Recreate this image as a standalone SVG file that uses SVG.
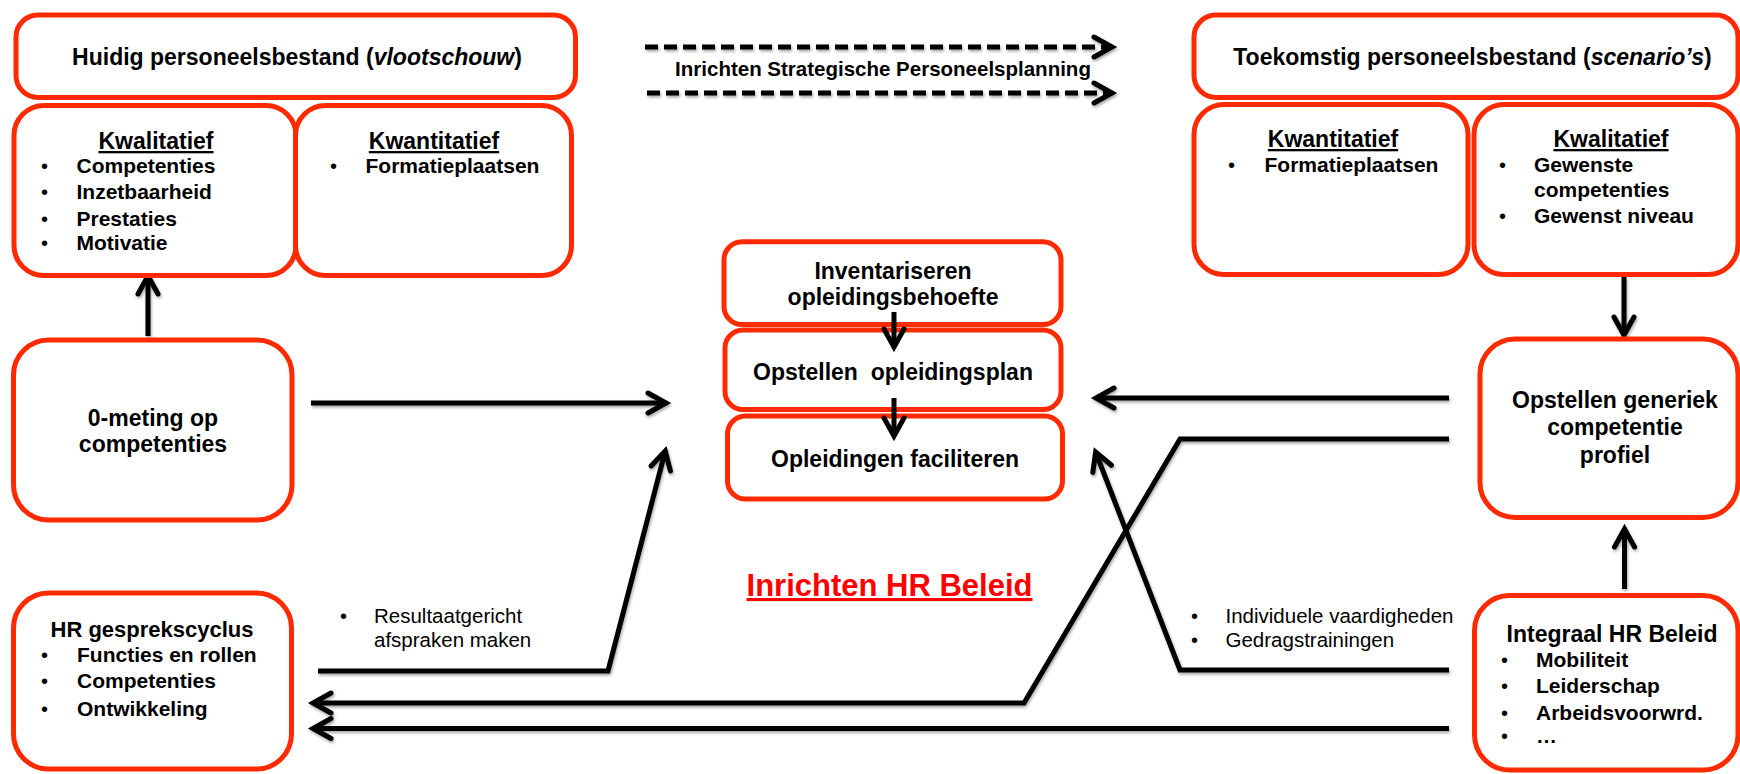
<svg xmlns="http://www.w3.org/2000/svg" width="1740" height="774" viewBox="0 0 1740 774">
<style>
.box{fill:#fff;stroke:#ff2a00;stroke-width:5}
.t{font-family:"Liberation Sans",Arial,sans-serif;font-weight:bold;fill:#000}
.r{font-family:"Liberation Sans",Arial,sans-serif;font-weight:normal;fill:#000;font-size:20.5px}
.h{font-size:23px}
.b{font-size:21px}
.k{font-size:23px}
.c{text-anchor:middle}
.u{text-decoration:underline}
.d{font-family:"Liberation Sans",Arial,sans-serif;font-weight:normal;fill:#000;font-size:20px}
.ln{fill:none;stroke:#000;stroke-width:5;stroke-linejoin:miter}
.dash{fill:none;stroke:#000;stroke-width:5;stroke-dasharray:13 6}
</style>
<defs>
<marker id="ah" markerUnits="userSpaceOnUse" markerWidth="40" markerHeight="40" viewBox="-25 -20 40 40" refX="0" refY="0" orient="auto" overflow="visible">
<path d="M-17,-10 L1,0 L-17,10" fill="none" stroke="#000" stroke-width="5" stroke-linecap="round" stroke-linejoin="miter"/>
</marker>
<filter id="sh" x="-5%" y="-5%" width="110%" height="110%">
<feDropShadow dx="1" dy="2" stdDeviation="1.5" flood-color="#000" flood-opacity="0.35"/>
</filter>
</defs>

<g id="connectors" filter="url(#sh)">
<line class="dash" x1="645" y1="47" x2="1111" y2="47" marker-end="url(#ah)"/>
<line class="dash" x1="647" y1="93" x2="1111" y2="93" marker-end="url(#ah)"/>
<line class="ln" x1="148" y1="336" x2="148" y2="277" marker-end="url(#ah)"/>
<line class="ln" x1="311" y1="403" x2="665" y2="403" marker-end="url(#ah)"/>
<polyline class="ln" points="318,671 608,671 665,452" marker-end="url(#ah)"/>
<line class="ln" x1="1449" y1="398" x2="1097" y2="398" marker-end="url(#ah)"/>
<polyline class="ln" points="1449,439 1180,439 1024,703 314,703" marker-end="url(#ah)"/>
<polyline class="ln" points="1449,670 1180,670 1096,453" marker-end="url(#ah)"/>
<line class="ln" x1="1449" y1="728.5" x2="314" y2="728.5" marker-end="url(#ah)"/>
<line class="ln" x1="1624" y1="277" x2="1624" y2="334" marker-end="url(#ah)"/>
<line class="ln" x1="1624.5" y1="589" x2="1624.5" y2="530" marker-end="url(#ah)"/>
</g>

<g id="huidig-header">
<rect class="box" x="16" y="15" width="559.5" height="82.5" rx="22"/>
<text class="t c" x="297" y="65" font-size="23">Huidig personeelsbestand (<tspan font-style="italic">vlootschouw</tspan>)</text>
</g>
<g id="huidig-kwalitatief">
<rect class="box" x="14" y="105.5" width="282" height="170" rx="30"/>
<text class="t k c u" x="156" y="149">Kwalitatief</text>
<text class="d" x="41" y="173">•</text><text class="t b" x="76.5" y="173">Competenties</text>
<text class="d" x="41" y="199">•</text><text class="t b" x="76.5" y="199">Inzetbaarheid</text>
<text class="d" x="41" y="226">•</text><text class="t b" x="76.5" y="226">Prestaties</text>
<text class="d" x="41" y="250">•</text><text class="t b" x="76.5" y="250">Motivatie</text>
</g>
<g id="huidig-kwantitatief">
<rect class="box" x="295.5" y="105.5" width="276" height="170" rx="30"/>
<text class="t k c u" x="434" y="149">Kwantitatief</text>
<text class="d" x="330" y="173">•</text><text class="t b" x="365.5" y="173">Formatieplaatsen</text>
</g>

<g id="spp-label">
<text class="t c" x="883" y="76" font-size="20.5">Inrichten Strategische Personeelsplanning</text>
</g>

<g id="toekomstig-header">
<rect class="box" x="1194" y="15" width="544" height="82.5" rx="22"/>
<text class="t c" x="1472.5" y="65" font-size="23">Toekomstig personeelsbestand (<tspan font-style="italic">scenario’s</tspan>)</text>
</g>
<g id="toekomstig-kwantitatief">
<rect class="box" x="1194" y="104.5" width="274" height="170" rx="30"/>
<text class="t k c u" x="1333" y="147">Kwantitatief</text>
<text class="d" x="1228" y="172">•</text><text class="t b" x="1264.5" y="172">Formatieplaatsen</text>
</g>
<g id="toekomstig-kwalitatief">
<rect class="box" x="1474" y="104.5" width="264" height="170" rx="30"/>
<text class="t k c u" x="1611" y="147">Kwalitatief</text>
<text class="d" x="1499" y="172">•</text><text class="t b" x="1534" y="172">Gewenste</text>
<text class="t b" x="1534" y="197">competenties</text>
<text class="d" x="1499" y="223">•</text><text class="t b" x="1534" y="223">Gewenst niveau</text>
</g>

<g id="nulmeting">
<rect class="box" x="13.5" y="340" width="278.5" height="180" rx="35"/>
<text class="t h c" x="153" y="426">0-meting op</text>
<text class="t h c" x="153" y="452">competenties</text>
</g>

<g id="hr-gesprekscyclus">
<rect class="box" x="13.5" y="593" width="278" height="176" rx="35"/>
<text class="t c" x="152" y="637" font-size="22">HR gesprekscyclus</text>
<text class="d" x="41" y="662">•</text><text class="t b" x="77" y="662">Functies en rollen</text>
<text class="d" x="41" y="688">•</text><text class="t b" x="77" y="688">Competenties</text>
<text class="d" x="41" y="716">•</text><text class="t b" x="77" y="716">Ontwikkeling</text>
</g>

<g id="inventariseren">
<rect class="box" x="724" y="241.8" width="337" height="82.7" rx="18"/>
<text class="t h c" x="893" y="279">Inventariseren</text>
<text class="t h c" x="893" y="305">opleidingsbehoefte</text>
</g>
<g id="opleidingsplan">
<rect class="box" x="725" y="330" width="336" height="79.5" rx="18"/>
<text class="t h c" x="893" y="380" xml:space="preserve">Opstellen  opleidingsplan</text>
</g>
<g id="faciliteren">
<rect class="box" x="727.5" y="416" width="335" height="83" rx="18"/>
<text class="t h c" x="895" y="467">Opleidingen faciliteren</text>
</g>
<g id="inner-arrows">
<line class="ln" x1="894" y1="312" x2="894" y2="346" marker-end="url(#ah)"/>
<line class="ln" x1="894" y1="398" x2="894" y2="435" marker-end="url(#ah)"/>
</g>

<g id="title">
<text class="t c u" x="889.5" y="596" font-size="31" style="fill:#ff0000">Inrichten HR Beleid</text>
</g>

<g id="label-resultaat">
<text class="d" x="340" y="623">•</text><text class="r" x="374" y="623">Resultaatgericht</text>
<text class="r" x="374" y="647">afspraken maken</text>
</g>
<g id="label-individueel">
<text class="d" x="1191" y="623">•</text><text class="r" x="1225.5" y="623">Individuele vaardigheden</text>
<text class="d" x="1191" y="647">•</text><text class="r" x="1225.5" y="647">Gedragstrainingen</text>
</g>

<g id="competentieprofiel">
<rect class="box" x="1480" y="339" width="258" height="178.5" rx="35"/>
<text class="t h c" x="1615" y="408">Opstellen generiek</text>
<text class="t h c" x="1615" y="435">competentie</text>
<text class="t h c" x="1615" y="463">profiel</text>
</g>

<g id="integraal-hr">
<rect class="box" x="1474.5" y="595.5" width="263.5" height="174.5" rx="35"/>
<text class="t h c" x="1612" y="642">Integraal HR Beleid</text>
<text class="d" x="1501" y="667">•</text><text class="t b" x="1536" y="667">Mobiliteit</text>
<text class="d" x="1501" y="693">•</text><text class="t b" x="1536" y="693">Leiderschap</text>
<text class="d" x="1501" y="720">•</text><text class="t b" x="1536" y="720">Arbeidsvoorwrd.</text>
<text class="d" x="1501" y="743">•</text><text class="t b" x="1536" y="743">…</text>
</g>
</svg>
